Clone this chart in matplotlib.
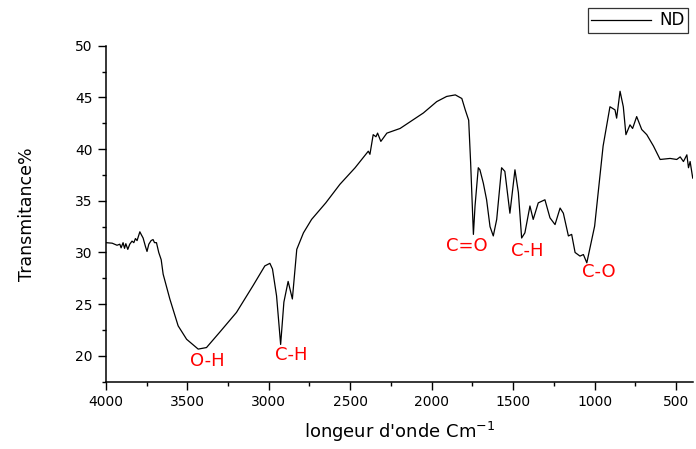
import numpy as np
import matplotlib
matplotlib.use("Agg")
import matplotlib.pyplot as plt
from matplotlib.ticker import MultipleLocator

# ====================================================
# DATA
# ====================================================

wavenumber = [
    4000, 3961, 3931, 3914, 3906, 3894, 3885, 3877, 3865, 3853,
    3839, 3828, 3818, 3808, 3791, 3783, 3771, 3757, 3747, 3736,
    3722, 3710, 3701, 3689, 3675, 3660, 3648, 3607, 3556, 3504,
    3433, 3382, 3300, 3198, 3096, 3024, 2993, 2977, 2952, 2927,
    2907, 2881, 2855, 2828, 2787, 2737, 2650, 2563, 2470, 2389,
    2379, 2359, 2342, 2332, 2312, 2275, 2194, 2051, 1969, 1908,
    1855, 1815, 1794, 1773, 1761, 1744, 1734, 1714, 1704, 1683,
    1663, 1642, 1622, 1601, 1571, 1551, 1520, 1489, 1468, 1448,
    1428, 1397, 1377, 1346, 1305, 1274, 1243, 1212, 1192, 1161,
    1141, 1120, 1090, 1069, 1048, 1000, 948, 906, 875, 865,
    844, 824, 808, 783, 767, 742, 711, 680, 639, 598,
    537, 496, 475, 455, 434, 424, 414, 398,
]
transmittance = [
    30.95, 30.9, 30.7, 30.8, 30.45, 30.95, 30.4, 30.85, 30.3, 30.8,
    31.1, 30.95, 31.35, 31.15, 32.0, 31.75, 31.4, 30.6, 30.1, 30.8,
    31.15, 31.25, 30.95, 30.95, 30.0, 29.3, 27.9, 25.5, 22.9, 21.6,
    20.65, 20.8, 22.3, 24.2, 26.8, 28.7, 28.95, 28.4, 25.8, 21.1,
    25.2, 27.2, 25.5, 30.3, 31.9, 33.2, 34.8, 36.6, 38.2, 39.8,
    39.5, 41.4, 41.2, 41.55, 40.75, 41.55, 42.0, 43.5, 44.6, 45.1,
    45.25, 44.9, 43.8, 42.8, 38.7, 31.75, 34.5, 38.2, 38.0, 36.7,
    35.1, 32.5, 31.6, 33.2, 38.2, 37.85, 33.8, 38.0, 35.8, 31.4,
    31.9, 34.5, 33.2, 34.8, 35.1, 33.35, 32.7, 34.3, 33.8, 31.6,
    31.75, 30.0, 29.65, 29.8, 29.0, 32.55, 40.3, 44.1, 43.8, 43.0,
    45.6, 44.1, 41.4, 42.35, 42.0, 43.15, 41.9, 41.4, 40.3, 39.0,
    39.1, 39.0, 39.25, 38.8, 39.45, 38.2, 38.8, 37.2,
]

band_labels = ["O-H", "C-H", "C=O", "C-H", "C-O"]
band_x = [3380, 2864, 1784, 1416, 974]
band_y = [19.5, 20.1, 30.6, 30.1, 28.1]

# ====================================================
# PLOT
# ====================================================

fig = plt.figure(figsize=(6.96, 4.49), dpi=100)
ax = fig.add_axes([0.152, 0.150, 0.844, 0.748])

ax.plot(wavenumber, transmittance, color="black", linewidth=0.9, label="ND")

for lab, bx, by in zip(band_labels, band_x, band_y):
    ax.text(bx, by, lab, color="red", fontsize=13, ha="center", va="center")

ax.set_xlim(4000, 395)
ax.set_ylim(17.5, 50)

ax.xaxis.set_major_locator(MultipleLocator(500))
ax.xaxis.set_minor_locator(MultipleLocator(250))
ax.yaxis.set_major_locator(MultipleLocator(5))
ax.yaxis.set_minor_locator(MultipleLocator(2.5))
ax.set_yticks([20, 25, 30, 35, 40, 45, 50])

ax.tick_params(which="major", length=5.5, width=1, labelsize=10, pad=4)
ax.tick_params(which="minor", length=3, width=1)

for side in ["top", "right"]:
    ax.spines[side].set_visible(False)
for side in ["left", "bottom"]:
    ax.spines[side].set_linewidth(1.1)

ax.set_xlabel("longeur d'onde Cm$^{\\mathregular{-1}}$", fontsize=13, labelpad=8)
ax.set_ylabel("Transmitance%", fontsize=12.5, labelpad=28)

fig.legend(
    loc="upper right",
    bbox_to_anchor=(688 / 696, 1 - 8 / 449),
    fontsize=12,
    frameon=True,
    fancybox=False,
    edgecolor="black",
    handlelength=3.6,
    handletextpad=0.5,
    borderpad=0.2,
    borderaxespad=0,
)
fig.legends[0].get_frame().set_linewidth(0.9)

fig.savefig("out.png", dpi=100)
